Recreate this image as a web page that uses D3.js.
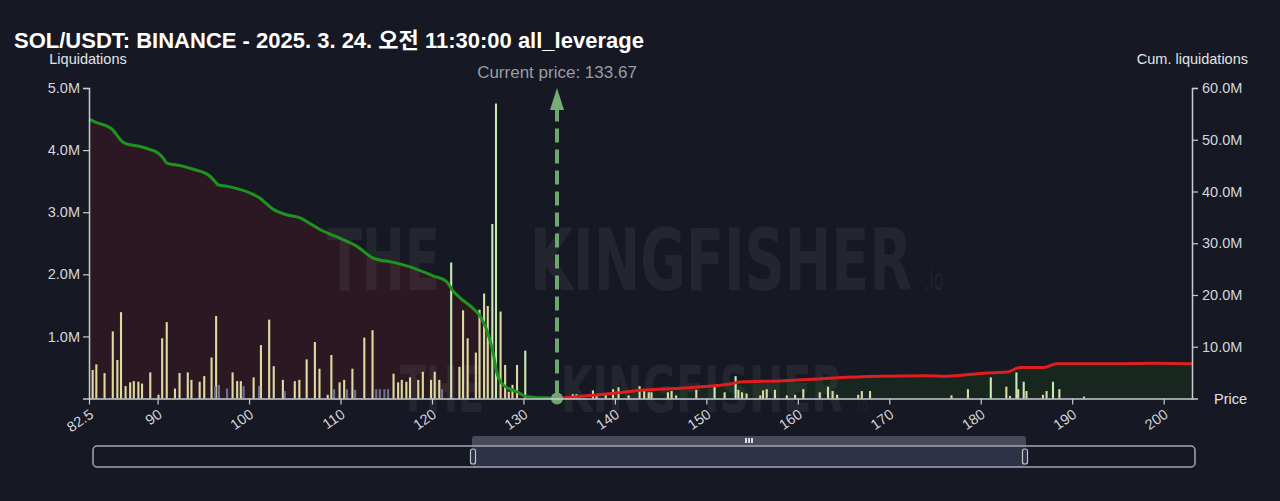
<!DOCTYPE html>
<html><head><meta charset="utf-8">
<script src="https://cdn.jsdelivr.net/npm/d3@7"></script>
<style>
html,body{margin:0;padding:0;background:#161823;}
svg{display:block;}
</style></head>
<body>
<svg id="c" width="1280" height="501"></svg>
<script>
// ---------- DATA ----------
const title = "SOL/USDT: BINANCE - 2025. 3. 24. 오전 11:30:00 all_leverage";
const currentPrice = 133.67;
const xTicks = [82.5, 90, 100, 110, 120, 130, 140, 150, 160, 170, 180, 190, 200];
const yLeftTicks = [1e6, 2e6, 3e6, 4e6, 5e6];
const yRightTicks = [10e6, 20e6, 30e6, 40e6, 50e6, 60e6];

// liquidation bars [price, value in M]
const barsMain = [
 [82.9,0.46],[83.3,0.55],[84.2,0.41],[85.1,1.08],[85.6,0.62],[86.0,1.39],[86.5,0.20],[87.0,0.26],
 [87.4,0.28],[87.9,0.27],[88.3,0.24],[89.2,0.42],[90.1,0.06],[90.5,0.97],[91.0,1.23],[91.9,0.16],
 [92.4,0.41],[93.3,0.42],[93.7,0.30],[94.6,0.27],[95.1,0.36],[95.9,0.66],[96.4,1.33],[98.2,0.42],
 [98.7,0.28],[99.1,0.28],[100.5,0.34],[101.3,0.86],[102.2,1.27],[102.7,0.52],[103.7,0.30],[105.0,0.28],
 [105.5,0.30],[106.3,0.63],[107.2,0.91],[107.7,0.48],[108.6,0.06],[109.0,0.70],[109.9,0.26],[110.4,0.30],
 [111.3,0.48],[112.6,0.98],[113.5,1.10],[115.8,0.40],[116.3,0.26],[116.7,0.30],[117.2,0.27],[117.6,0.34],
 [118.5,0.30],[119.0,0.43],[119.9,0.30],[120.3,0.43],[120.8,0.30],[123.0,0.51],[123.4,1.42],[123.9,0.97],
 [124.8,0.74],[125.2,1.43],[125.7,1.69],[126.1,1.49],[127.5,1.40],[128.0,0.54],[128.4,0.11],[128.8,0.22],
 [129.3,0.54],
 [135.4,0.07],[135.8,0.07],[137.6,0.13],[138.0,0.07],[139.0,0.07],[139.8,0.15],[140.4,0.18],[141.5,0.05],
 [142.7,0.20],[143.2,0.12],[143.7,0.10],[144.0,0.10],[145.8,0.10],[146.2,0.12],[146.7,0.05],[148.9,0.14],
 [152.0,0.10],[153.5,0.14],[153.9,0.10],[154.4,0.08],[155.9,0.05],[156.2,0.13],[156.6,0.15],[157.5,0.14],
 [158.8,0.05],[159.7,0.06],[160.6,0.15],[162.4,0.10],[163.3,0.19],[163.8,0.12],[164.3,0.06],[166.6,0.06],
 [167.0,0.12],[167.9,0.12],[176.8,0.05],[178.6,0.15],[182.8,0.19],[183.2,0.04],[184.1,0.15],[185.0,0.12],
 [186.8,0.06],[187.2,0.12],[188.6,0.15],[191.3,0.03]
];
const barsHigh = [
 [122.1,2.19],[126.6,2.81],[127.0,4.75],[130.2,0.77],[150.9,0.22],[153.2,0.36],[181.1,0.34],[183.9,0.42],
 [184.7,0.27],[187.9,0.27]
];
const barsLow = [
 [96.3,0.20],[96.7,0.22],[97.6,0.16],[99.4,0.20],[101.1,0.20],[103.9,0.12],[109.3,0.15],[110.7,0.15],
 [111.6,0.14],[113.9,0.15],[114.3,0.15],[114.8,0.15],[115.2,0.15],[121.1,0.15]
];

// cumulative liquidations [price, value in M]
const cumShort = [
 [82.5,54.0],[83.5,53.2],[84.4,52.7],[85.0,52.1],[85.5,51.0],[86.1,49.7],[86.6,49.2],[88.1,48.7],
 [89.2,48.1],[90.0,47.5],[90.6,46.5],[91.0,45.5],[92.5,45.0],[93.9,44.3],[95.7,43.0],[96.3,41.9],
 [96.6,41.3],[97.9,40.9],[100.5,39.4],[101.2,38.7],[101.6,38.1],[102.7,36.5],[104.1,35.5],[105.6,34.9],
 [106.3,34.2],[107.8,32.6],[109.9,31.0],[111.8,29.4],[113.6,27.1],[115.8,26.3],[118.0,25.2],[120.1,23.7],
 [121.6,22.6],[122.2,21.0],[123.1,19.4],[124.5,17.4],[125.3,15.8],[126.0,13.2],[126.7,8.7],[127.1,4.9],
 [127.8,2.6],[129.3,1.3],[130.4,0.35],[133.3,0.04],[133.67,0]
];
const cumLong = [
 [133.67,0],[134.0,0.05],[139.9,1.0],[142.8,1.6],[147.2,2.0],[151.2,2.5],[152.6,2.8],[153.7,3.2],
 [158.1,3.4],[161.7,3.7],[164.3,4.0],[169.0,4.3],[174.1,4.4],[176.3,4.3],[180.3,4.9],[182.9,5.1],
 [184.3,6.0],[186.9,6.0],[188.3,6.7],[194.5,6.7],[198.9,6.8],[203.1,6.7]
];

// ---------- CHART ----------
const svg = d3.select("#c");
const W = 1280, H = 501;
const L = 89, R = 1192, T = 88, B = 398.5;
const FONT = "'Liberation Sans',Arial,Helvetica,sans-serif";
const x = d3.scaleLinear().domain([82.5, 203.1]).range([L, R]);
const yL = d3.scaleLinear().domain([0, 5e6]).range([B, T]);
const yR = d3.scaleLinear().domain([0, 60e6]).range([B, T]);

svg.append("rect").attr("width", W).attr("height", H).attr("fill", "#161823");

// area fills
const areaR = d3.area().x(d => x(d[0])).y0(B).y1(d => yR(d[1] * 1e6)).curve(d3.curveMonotoneX);
svg.append("path").datum(cumShort).attr("d", areaR).attr("fill", "#2b1823");
svg.append("path").datum(cumLong).attr("d", areaR).attr("fill", "#17261f");

// watermark
const wm = svg.append("g").attr("font-family", "'DejaVu Sans Condensed','Liberation Sans Narrow',sans-serif")
  .attr("font-weight", "bold").attr("fill", "#ffffff").attr("fill-opacity", 0.06);
const wmText = (t, xx, yy, fs, len, weight) => wm.append("text").attr("x", xx).attr("y", yy)
  .attr("font-size", fs).attr("font-weight", weight || "bold").attr("textLength", len)
  .attr("lengthAdjust", "spacingAndGlyphs").text(t);
wmText("THE", 327, 290, 86, 113);
wmText("KINGFISHER", 530, 290, 86, 382);
wmText(".io", 924, 290, 30, 20, "normal");
wmText("THE", 400, 412, 64, 84);
wmText("KINGFISHER", 561, 412, 64, 282);
wmText(".io", 853, 412, 22, 15, "normal");

// bars
const bw = 2.1;
function drawBars(data, color) {
  svg.append("g").selectAll("rect").data(data).join("rect")
    .attr("x", d => x(d[0]) - bw / 2).attr("width", bw)
    .attr("y", d => yL(d[1] * 1e6)).attr("height", d => B - yL(d[1] * 1e6))
    .attr("fill", color);
}
drawBars(barsMain, "#dcdb9e");
drawBars(barsHigh, "#c6ebb0");
drawBars(barsLow, "#6d7396");

// cumulative lines
const lineR = d3.line().x(d => x(d[0])).y(d => yR(d[1] * 1e6)).curve(d3.curveMonotoneX);
svg.append("path").datum(cumShort).attr("d", lineR).attr("fill", "none")
  .attr("stroke", "#1e941e").attr("stroke-width", 3);
svg.append("path").datum(cumLong).attr("d", lineR).attr("fill", "none")
  .attr("stroke", "#e01e1e").attr("stroke-width", 3);

// current price marker
const cx = x(currentPrice);
svg.append("line").attr("x1", cx).attr("x2", cx).attr("y1", B - 4).attr("y2", 108)
  .attr("stroke", "#6fa66f").attr("stroke-width", 4).attr("stroke-dasharray", "14,7");
svg.append("path").attr("d", `M${cx},${88} L${cx + 7},${110} L${cx - 7},${110} Z`).attr("fill", "#74ae74");
svg.append("circle").attr("cx", cx).attr("cy", B).attr("r", 6).attr("fill", "#6fa66f");
svg.append("text").attr("x", cx).attr("y", 78).attr("text-anchor", "middle")
  .attr("font-family", FONT).attr("font-size", 17)
  .attr("fill", "#9a9da6").text("Current price: " + currentPrice.toFixed(2));

// axes
const axCol = "#c9cbd3", txtCol = "#d4d6dc";
const fmtM = d => (d / 1e6).toFixed(1) + "M";
const gL = svg.append("g").attr("transform", `translate(${L},0)`)
  .call(d3.axisLeft(yL).tickValues(yLeftTicks).tickFormat(fmtM).tickSize(6).tickPadding(3));
const gR = svg.append("g").attr("transform", `translate(${R},0)`)
  .call(d3.axisRight(yR).tickValues(yRightTicks).tickFormat(fmtM).tickSize(6).tickPadding(4));
const gB = svg.append("g").attr("transform", `translate(0,${B})`)
  .call(d3.axisBottom(x).tickValues(xTicks).tickFormat(d => d).tickSize(6).tickSizeOuter(0));
[gL, gR, gB].forEach(g => {
  g.selectAll("path.domain").attr("stroke", axCol).attr("stroke-width", 1.5);
  g.selectAll(".tick line").attr("stroke", axCol).attr("stroke-width", 1.2);
  g.selectAll("text").attr("fill", txtCol).attr("font-size", 14.5).attr("font-family", FONT);
});
gB.selectAll(".tick text").attr("text-anchor", "end").attr("dy", null).attr("y", 0)
  .attr("transform", "translate(5,18) rotate(-35)");

// titles
svg.append("text").attr("x", 14).attr("y", 48)
  .attr("font-family", "'Liberation Sans',Arial,'Noto Sans CJK KR',sans-serif")
  .attr("font-weight", "bold").attr("font-size", 22).attr("fill", "#ffffff").text(title);
const lab = (t, xx, yy, anchor) => svg.append("text").attr("x", xx).attr("y", yy).attr("text-anchor", anchor)
  .attr("font-family", FONT).attr("font-size", 14.5).attr("fill", "#e2e3e8").text(t);
lab("Liquidations", 88, 64, "middle");
lab("Cum. liquidations", 1248, 64, "end");
lab("Price", 1214, 404, "start");

// range slider
const sel0 = 473, sel1 = 1025;
svg.append("rect").attr("x", sel0 - 1).attr("y", 436).attr("width", sel1 - sel0 + 2).attr("height", 12)
  .attr("rx", 3).attr("fill", "#474a5a");
svg.append("rect").attr("x", sel0).attr("y", 446).attr("width", sel1 - sel0).attr("height", 21).attr("fill", "#2e3246");
svg.append("rect").attr("x", 93).attr("y", 446).attr("width", 1102).attr("height", 21).attr("rx", 4)
  .attr("fill", "none").attr("stroke", "#a4a6b0").attr("stroke-width", 1.5);
[-3, 0, 3].forEach(o => svg.append("rect").attr("x", (sel0 + sel1) / 2 + o - 0.8).attr("y", 438)
  .attr("width", 1.6).attr("height", 5).attr("fill", "#ffffff"));
[sel0, sel1].forEach(h => svg.append("rect").attr("x", h - 2.5).attr("y", 449).attr("width", 5).attr("height", 15)
  .attr("rx", 2).attr("fill", "#2e3246").attr("stroke", "#c4c6ce").attr("stroke-width", 1.2));
</script>
</body></html>
